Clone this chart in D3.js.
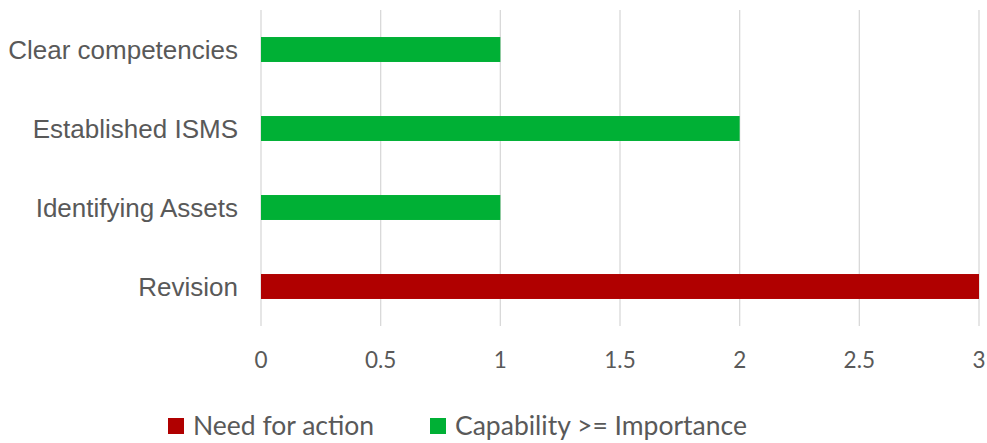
<!DOCTYPE html>
<html>
<head>
<meta charset="utf-8">
<script src="https://cdn.jsdelivr.net/npm/d3@7"></script>
<style>
  body { margin: 0; background: #fff; }
</style>
</head>
<body>
<div id="chart"></div>
<script>
// Chart data
const categories = ["Clear competencies", "Established ISMS", "Identifying Assets", "Revision"];
const values = [1, 2, 1, 3];
const status = ["ok", "ok", "ok", "action"];
const xTicks = [0, 0.5, 1, 1.5, 2, 2.5, 3];
const legendItems = [
  { key: "action", label: "Need for action" },
  { key: "ok", label: "Capability >= Importance" }
];

document.addEventListener("DOMContentLoaded", () => {
  const width = 987;
  const height = 443;
  const margin = { top: 10, right: 8, bottom: 117, left: 261 };

  const color = d3.scaleOrdinal()
    .domain(["action", "ok"])
    .range(["#b00000", "#00b035"]);

  const svg = d3.select("#chart")
    .append("svg")
    .attr("width", width)
    .attr("height", height);

  const x = d3.scaleLinear()
    .domain([0, 3])
    .range([margin.left, width - margin.right]);

  const y = d3.scaleBand()
    .domain(categories)
    .range([margin.top, height - margin.bottom])
    .paddingInner(0.684)
    .paddingOuter(0.342);

  // Vertical gridlines
  svg.append("g")
    .selectAll("line")
    .data(xTicks)
    .enter()
    .append("line")
    .attr("x1", d => x(d))
    .attr("x2", d => x(d))
    .attr("y1", margin.top)
    .attr("y2", height - margin.bottom)
    .attr("stroke", "#d9d9d9")
    .attr("stroke-width", 1.3);

  // Bars
  svg.append("g")
    .selectAll("rect")
    .data(categories)
    .enter()
    .append("rect")
    .attr("x", x(0))
    .attr("y", d => y(d))
    .attr("width", (d, i) => x(values[i]) - x(0))
    .attr("height", y.bandwidth())
    .attr("fill", (d, i) => color(status[i]));

  // Category labels
  svg.append("g")
    .selectAll("text")
    .data(categories)
    .enter()
    .append("text")
    .attr("x", margin.left - 23)
    .attr("y", d => y(d) + y.bandwidth() / 2)
    .attr("dy", "0.35em")
    .attr("text-anchor", "end")
    .attr("font-family", "'Liberation Sans', Arial, sans-serif")
    .attr("font-size", 26)
    .attr("fill", "#595959")
    .text(d => d);

  // X tick labels
  svg.append("g")
    .selectAll("text")
    .data(xTicks)
    .enter()
    .append("text")
    .attr("x", d => x(d))
    .attr("y", 360)
    .attr("dy", "0.35em")
    .attr("text-anchor", "middle")
    .attr("font-family", "Lato, 'Open Sans', sans-serif")
    .attr("font-size", 22.5)
    .attr("fill", "#595959")
    .text(d => d);

  // Legend
  const legend = svg.append("g");
  const legendX = [168, 430];
  legendItems.forEach((item, i) => {
    const g = legend.append("g").attr("transform", `translate(${legendX[i]},426)`);
    g.append("rect")
      .attr("x", 0)
      .attr("y", -8)
      .attr("width", 16)
      .attr("height", 16)
      .attr("fill", color(item.key));
    g.append("text")
      .attr("x", 25)
      .attr("y", 0)
      .attr("dy", "0.35em")
      .attr("font-family", "Lato, 'Open Sans', sans-serif")
      .attr("font-size", 26.5)
      .attr("fill", "#595959")
      .text(item.label);
  });
});
</script>
</body>
</html>
